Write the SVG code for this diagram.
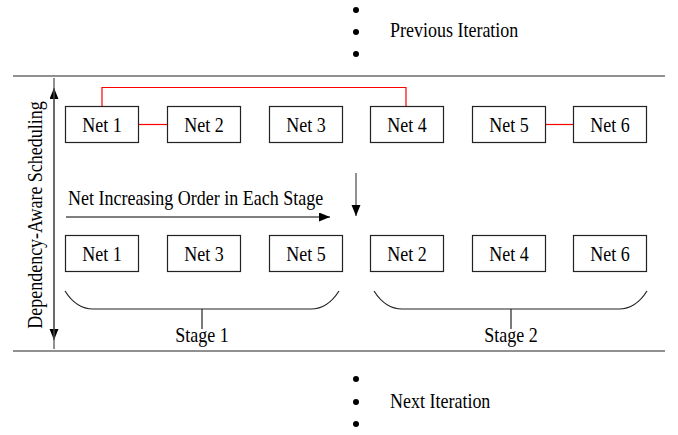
<svg xmlns="http://www.w3.org/2000/svg" width="678" height="435" viewBox="0 0 678 435">
<style>
.t{font-family:"Liberation Serif","Times New Roman",serif;font-size:18px;fill:#000}
.c{text-anchor:middle}
.box{fill:#fff;stroke:#222;stroke-width:1.2}
.red{fill:none;stroke:#f00;stroke-width:1.2}
.ln{fill:none;stroke:#222;stroke-width:1.2}
.ar{fill:none;stroke:#555;stroke-width:1.3}
</style>
<defs>
<marker id="ah" markerUnits="userSpaceOnUse" markerWidth="12" markerHeight="10" refX="11" refY="4.5" orient="auto-start-reverse">
<path d="M0,0 L11,4.5 L0,9 Z" fill="#000"/>
</marker>
</defs>
<rect width="678" height="435" fill="#fff"/>
<g id="separators">
<line class="ln" x1="13" y1="76" x2="665" y2="76"/>
<line class="ln" x1="13" y1="351" x2="665" y2="351"/>
</g>
<g id="prev-iteration">
<circle cx="356" cy="10" r="3"/>
<circle cx="356" cy="32" r="3"/>
<circle cx="356" cy="54" r="3"/>
<text class="t" transform="translate(390,37) scale(1,1.13)">Previous Iteration</text>
</g>
<g id="next-iteration">
<circle cx="356" cy="379" r="3"/>
<circle cx="356" cy="402" r="3"/>
<circle cx="356" cy="424" r="3"/>
<text class="t" transform="translate(390,408) scale(1,1.13)">Next Iteration</text>
</g>
<g id="scheduling-label">
<text class="t c" transform="translate(42,215) rotate(-90) scale(1,1.13)">Dependency-Aware Scheduling</text>
</g>
<g id="connectors">
<line class="ar" x1="54" y1="88" x2="54" y2="340" marker-start="url(#ah)" marker-end="url(#ah)"/>
<line class="ar" x1="54" y1="78" x2="54" y2="349" />
<path class="red" d="M102,106 V87.5 H406 V106"/>
<line class="red" x1="139" y1="124.5" x2="167" y2="124.5"/>
<line class="red" x1="546" y1="124.5" x2="573" y2="124.5"/>
<line class="ar" x1="66" y1="217" x2="330" y2="217" marker-end="url(#ah)"/>
<line class="ar" x1="356" y1="173" x2="356" y2="216" marker-end="url(#ah)"/>
<path class="ln" d="M65,291 C72,302 82,309 93,309 L311,309 C322,309 332,302 339,291"/>
<line class="ln" x1="202" y1="309" x2="202" y2="329"/>
<path class="ln" d="M374,291 C381,302 391,309 402,309 L619,309 C630,309 640,302 647,291"/>
<line class="ln" x1="511" y1="309" x2="511" y2="329"/>
</g>
<text class="t" transform="translate(68,205) scale(1,1.13)">Net Increasing Order in Each Stage</text>
<g id="top-net1"><rect class="box" x="65.5" y="106.5" width="73" height="36"/><text class="t c" transform="translate(102,132) scale(1,1.13)">Net 1</text></g>
<g id="top-net2"><rect class="box" x="167.5" y="106.5" width="73" height="36"/><text class="t c" transform="translate(204,132) scale(1,1.13)">Net 2</text></g>
<g id="top-net3"><rect class="box" x="269.5" y="106.5" width="73" height="36"/><text class="t c" transform="translate(306,132) scale(1,1.13)">Net 3</text></g>
<g id="top-net4"><rect class="box" x="370.5" y="106.5" width="73" height="36"/><text class="t c" transform="translate(407,132) scale(1,1.13)">Net 4</text></g>
<g id="top-net5"><rect class="box" x="472.5" y="106.5" width="73" height="36"/><text class="t c" transform="translate(509,132) scale(1,1.13)">Net 5</text></g>
<g id="top-net6"><rect class="box" x="573.5" y="106.5" width="73" height="36"/><text class="t c" transform="translate(610,132) scale(1,1.13)">Net 6</text></g>
<g id="bot-net1"><rect class="box" x="65.5" y="235.5" width="73" height="36"/><text class="t c" transform="translate(102,261) scale(1,1.13)">Net 1</text></g>
<g id="bot-net3"><rect class="box" x="167.5" y="235.5" width="73" height="36"/><text class="t c" transform="translate(204,261) scale(1,1.13)">Net 3</text></g>
<g id="bot-net5"><rect class="box" x="269.5" y="235.5" width="73" height="36"/><text class="t c" transform="translate(306,261) scale(1,1.13)">Net 5</text></g>
<g id="bot-net2"><rect class="box" x="370.5" y="235.5" width="73" height="36"/><text class="t c" transform="translate(407,261) scale(1,1.13)">Net 2</text></g>
<g id="bot-net4"><rect class="box" x="472.5" y="235.5" width="73" height="36"/><text class="t c" transform="translate(509,261) scale(1,1.13)">Net 4</text></g>
<g id="bot-net6"><rect class="box" x="573.5" y="235.5" width="73" height="36"/><text class="t c" transform="translate(610,261) scale(1,1.13)">Net 6</text></g>
<g id="stage1-label"><text class="t c" transform="translate(202,342) scale(1,1.13)">Stage 1</text></g>
<g id="stage2-label"><text class="t c" transform="translate(511,342) scale(1,1.13)">Stage 2</text></g>
</svg>
